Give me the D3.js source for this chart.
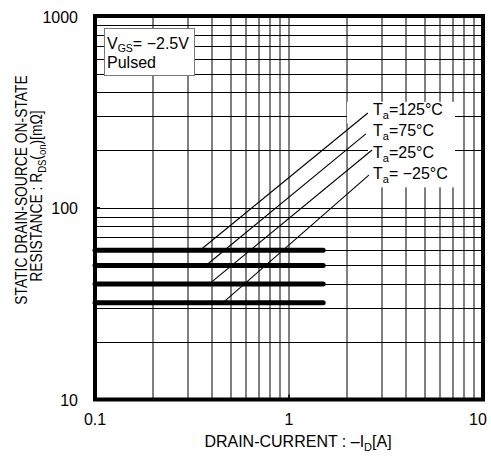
<!DOCTYPE html>
<html><head><meta charset="utf-8">
<script src="https://cdn.jsdelivr.net/npm/d3@7"></script>
<style>body{margin:0;background:#fff}svg{display:block}text{font-family:"Liberation Sans",Arial,sans-serif;font-size:16px;fill:#000}</style>
</head><body>
<script>
// ---- data ----
const xTickValues = [0.1, 1, 10];
const xTickLabels = ["0.1", "1", "10"];
const yTickValues = [10, 100, 1000];
const yTickLabels = ["10", "100", "1000"];
const tempLabels = ["125", "75", "25", " \u221225"];
const flatR = [60, 50, 40, 32];          // mΩ, flat part of each curve
const flatFromI = 0.1, flatToI = 1.5;   // A
const diagStartI = [0.348, 0.373, 0.387, 0.457];
const diagStartR = [60, 50, 40, 32];
const diagEndI = [2.55, 2.49, 2.68, 2.58];
const diagEndR = [312, 243, 200, 148];

const W = 491, H = 457;
const svg = d3.select("body").append("svg").attr("width", W).attr("height", H);
const x = d3.scaleLog().domain([0.1, 10]).range([95, 483]);
const y = d3.scaleLog().domain([10, 1000]).range([399.5, 16]);

// grid
const vGrid = [], hGrid = [];
[0.1, 1].forEach(d => { for (let k = 1; k <= 9; k++) { const v = +(k * d).toFixed(3); if (v > 0.1) vGrid.push(v); } });
[10, 100].forEach(d => { for (let k = 1; k <= 9; k++) { const v = k * d; if (v > 10) hGrid.push(v); } });
const g = svg.append("g");
g.selectAll(".vg").data(vGrid).join("line")
  .attr("x1", d => Math.round(x(d))).attr("x2", d => Math.round(x(d)))
  .attr("y1", y(1000)).attr("y2", y(10)).attr("stroke", "#000").attr("stroke-width", 1);
g.selectAll(".hg").data(hGrid).join("line")
  .attr("x1", x(0.1)).attr("x2", x(10))
  .attr("y1", d => Math.round(y(d)) + 0.5).attr("y2", d => Math.round(y(d)) + 0.5)
  .attr("stroke", "#000").attr("stroke-width", 1);

// white label backgrounds (annotation area)
const labelX = 373, labelBase0 = 115, labelStep = 21.3;
tempLabels.forEach((t, i) => {
  const left = i === 0 ? 347 : 368;
  svg.append("rect").attr("x", left).attr("y", labelBase0 + i * labelStep - 13.2)
    .attr("width", 455 - left).attr("height", labelStep + 0.4).attr("fill", "#fff");
});

// legend box
svg.append("rect").attr("x", 104.5).attr("y", 28.5).attr("width", 90).attr("height", 47)
  .attr("fill", "#fff").attr("stroke", "#777").attr("stroke-width", 1);
const vt = svg.append("text").attr("x", 107).attr("y", 48.5);
vt.append("tspan").text("V");
vt.append("tspan").attr("font-size", "10.5px").attr("dy", 3.5).text("GS");
vt.append("tspan").attr("dy", -3.5).text("= \u22122.5V");
svg.append("text").attr("x", 107).attr("y", 68).text("Pulsed");

// flat thick lines
svg.selectAll(".flat").data(flatR).join("line")
  .attr("x1", x(flatFromI)).attr("x2", x(flatToI))
  .attr("y1", d => y(d)).attr("y2", d => y(d))
  .attr("stroke", "#000").attr("stroke-width", 5).attr("stroke-linecap", "round");

// diagonal lines
svg.selectAll(".diag").data(d3.range(4)).join("line")
  .attr("x1", i => x(diagStartI[i])).attr("y1", i => y(diagStartR[i]))
  .attr("x2", i => x(diagEndI[i])).attr("y2", i => y(diagEndR[i]))
  .attr("stroke", "#000").attr("stroke-width", 1.1);

// temperature labels
tempLabels.forEach((t, i) => {
  const tx = svg.append("text").attr("x", labelX).attr("y", labelBase0 + i * labelStep);
  tx.append("tspan").text("T");
  tx.append("tspan").attr("font-size", "11px").attr("dy", 4).text("a");
  tx.append("tspan").attr("dy", -4).text("=" + t + "\u00B0C");
});

// frame
svg.append("rect").attr("x", x(0.1)).attr("y", y(1000))
  .attr("width", x(10) - x(0.1)).attr("height", y(10) - y(1000))
  .attr("fill", "none").attr("stroke", "#000").attr("stroke-width", 4);
// small inward ticks at decades
svg.append("line").attr("x1", x(1)).attr("x2", x(1)).attr("y1", y(10)).attr("y2", y(10) - 5)
  .attr("stroke", "#000").attr("stroke-width", 1.5);
svg.append("line").attr("x1", x(0.1)).attr("x2", x(0.1) + 5).attr("y1", y(100)).attr("y2", y(100))
  .attr("stroke", "#000").attr("stroke-width", 1.5);

// tick labels
svg.selectAll(".xl").data(xTickValues).join("text")
  .attr("x", (d, i) => x(d) + (i === xTickValues.length - 1 ? -5 : 0)).attr("y", 425)
  .attr("text-anchor", "middle").text((d, i) => xTickLabels[i]);
svg.selectAll(".yl").data(yTickValues).join("text")
  .attr("x", 78).attr("y", d => y(d) + 6.5)
  .attr("text-anchor", "end").text((d, i) => yTickLabels[i]);

// axis titles
const xt = svg.append("text").attr("x", 298).attr("y", 447).attr("text-anchor", "middle");
xt.append("tspan").text("DRAIN-CURRENT : \u2013I");
xt.append("tspan").attr("font-size", "11px").attr("dy", 4).text("D");
xt.append("tspan").attr("dy", -4).text("[A]");

const y1 = svg.append("text").attr("transform", "translate(27,190) rotate(-90) scale(0.865,1)")
  .attr("text-anchor", "middle").text("STATIC DRAIN-SOURCE ON-STATE");
const y2 = svg.append("text").attr("transform", "translate(42,196) rotate(-90) scale(0.865,1)")
  .attr("text-anchor", "middle");
y2.append("tspan").text("RESISTANCE : R");
y2.append("tspan").attr("font-size", "11px").attr("dy", 4).text("DS");
y2.append("tspan").attr("dy", -4).text("(");
y2.append("tspan").attr("font-size", "11px").attr("dy", 4).text("on");
y2.append("tspan").attr("dy", -4).text(")[m\u03A9]");
</script>
</body></html>
